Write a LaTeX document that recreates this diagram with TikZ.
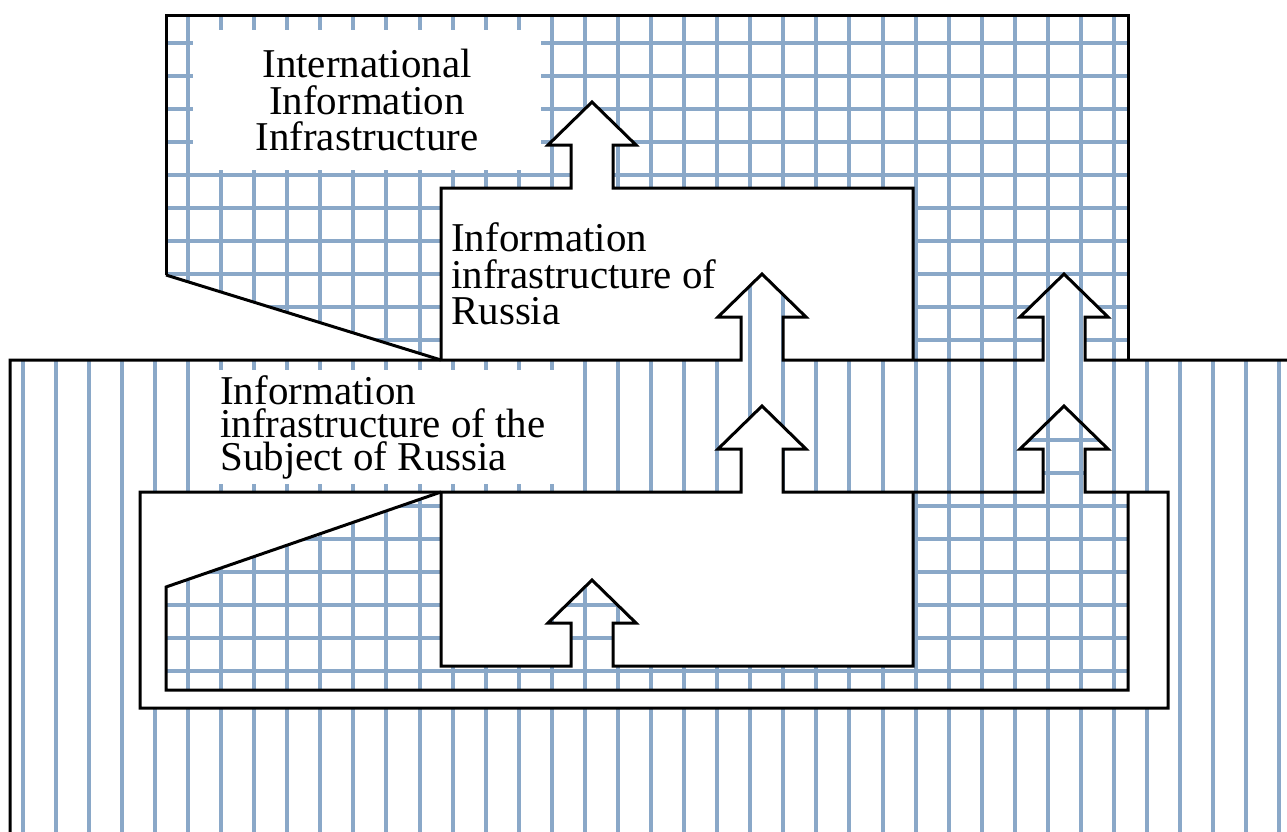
\documentclass[tikz,border=0pt]{standalone}
\usepackage{fontspec}
\setmainfont{Liberation Serif}
\definecolor{hatchblue}{RGB}{138,168,200}
\begin{document}
\begin{tikzpicture}[x=0.2mm, y=-0.2mm,
  every node/.style={font=\fontsize{23.3pt}{21pt}\selectfont, inner sep=0pt},
  hatch/.style={hatchblue, line width=0.8mm},
  outline/.style={line width=0.6mm},
  arrnotch/.style={insert path={-- ++(0,-43) -- ++(-23*#1,0) -- ++(44*#1,-43)
      -- ++(44*#1,43) -- ++(-23*#1,0) -- ++(0,43)}},
  arrnotch/.default=1]
  \useasboundingbox (0,0) rectangle (1287,832);
  \clip (0,0) rectangle (1287,832);

  % international infrastructure: grid
  \begin{scope}
    \clip (166,15) -- (1128,15) -- (1128,360) -- (441,360) -- (166,275) -- cycle;
    \foreach \k in {0,...,38} \draw[hatch] (22.7+33.07*\k,0) -- ++(0,850);
    \foreach \j in {0,...,25} \draw[hatch] (0,9.6+33.07*\j) -- ++(1300,0);
  \end{scope}
  \node[fill=white, minimum width=69.4mm, minimum height=28mm, align=center]
    (intl) at (367,100) {International\\Information\\Infrastructure};

  % russia
  \fill[white] (441,360) -- (441,188) -- (571,188) [arrnotch] -- (913,188) -- (913,360) -- cycle;
  \node[anchor=north west, align=left] (rus) at (451,222)
    {Information\\infrastructure of\\Russia};

  % subject of russia: vertical lines
  \begin{scope}
    \clip (10,360) -- (741,360) [arrnotch] -- (1043,360) [arrnotch] -- (1300,360)
      -- (1300,850) -- (10,850) -- cycle;
    \fill[white] (0,0) rectangle (1300,850);
    \foreach \k in {0,...,38} \draw[hatch] (22.7+33.07*\k,0) -- ++(0,850);
  \end{scope}
  \node[anchor=north west, fill=white, inner xsep=2mm, inner ysep=1mm, align=left,
    font=\fontsize{23.3pt}{18.8pt}\selectfont] (subj) at (210,370)
    {Information\\infrastructure of the\\Subject of Russia};

  % subject box
  \fill[white] (140,492) rectangle (1168,708);
  \begin{scope}
    \clip (166,587) -- (441,492) -- (1043,492) [arrnotch] -- (1128,492) -- (1128,690)
      -- (166,690) -- cycle;
    \foreach \k in {0,...,38} \draw[hatch] (22.7+33.07*\k,0) -- ++(0,850);
    \foreach \j in {0,...,25} \draw[hatch] (0,9.6+33.07*\j) -- ++(1300,0);
  \end{scope}
  \fill[white] (441,492) -- (741,492) [arrnotch] -- (913,492) -- (913,666)
    -- (613,666) [arrnotch=-1] -- (441,666) -- cycle;

  % outlines
  \draw[outline] (166,275) -- (166,15) -- (1128,15) -- (1128,360);
  \draw[outline] (166,275) -- (441,360);
  \draw[outline] (441,360) -- (441,188) -- (571,188) [arrnotch] -- (913,188) -- (913,360);
  \draw[outline] (10,850) -- (10,360) -- (741,360) [arrnotch] -- (1043,360) [arrnotch] -- (1300,360);
  \draw[outline] (140,492) -- (741,492) [arrnotch] -- (1043,492) [arrnotch] -- (1168,492)
    -- (1168,708) -- (140,708) -- cycle;
  \draw[outline] (441,492) -- (166,587) -- (166,690) -- (1128,690) -- (1128,492);
  \draw[outline] (441,492) -- (441,666) -- (571,666) [arrnotch] -- (913,666) -- (913,492);
\end{tikzpicture}
\end{document}
